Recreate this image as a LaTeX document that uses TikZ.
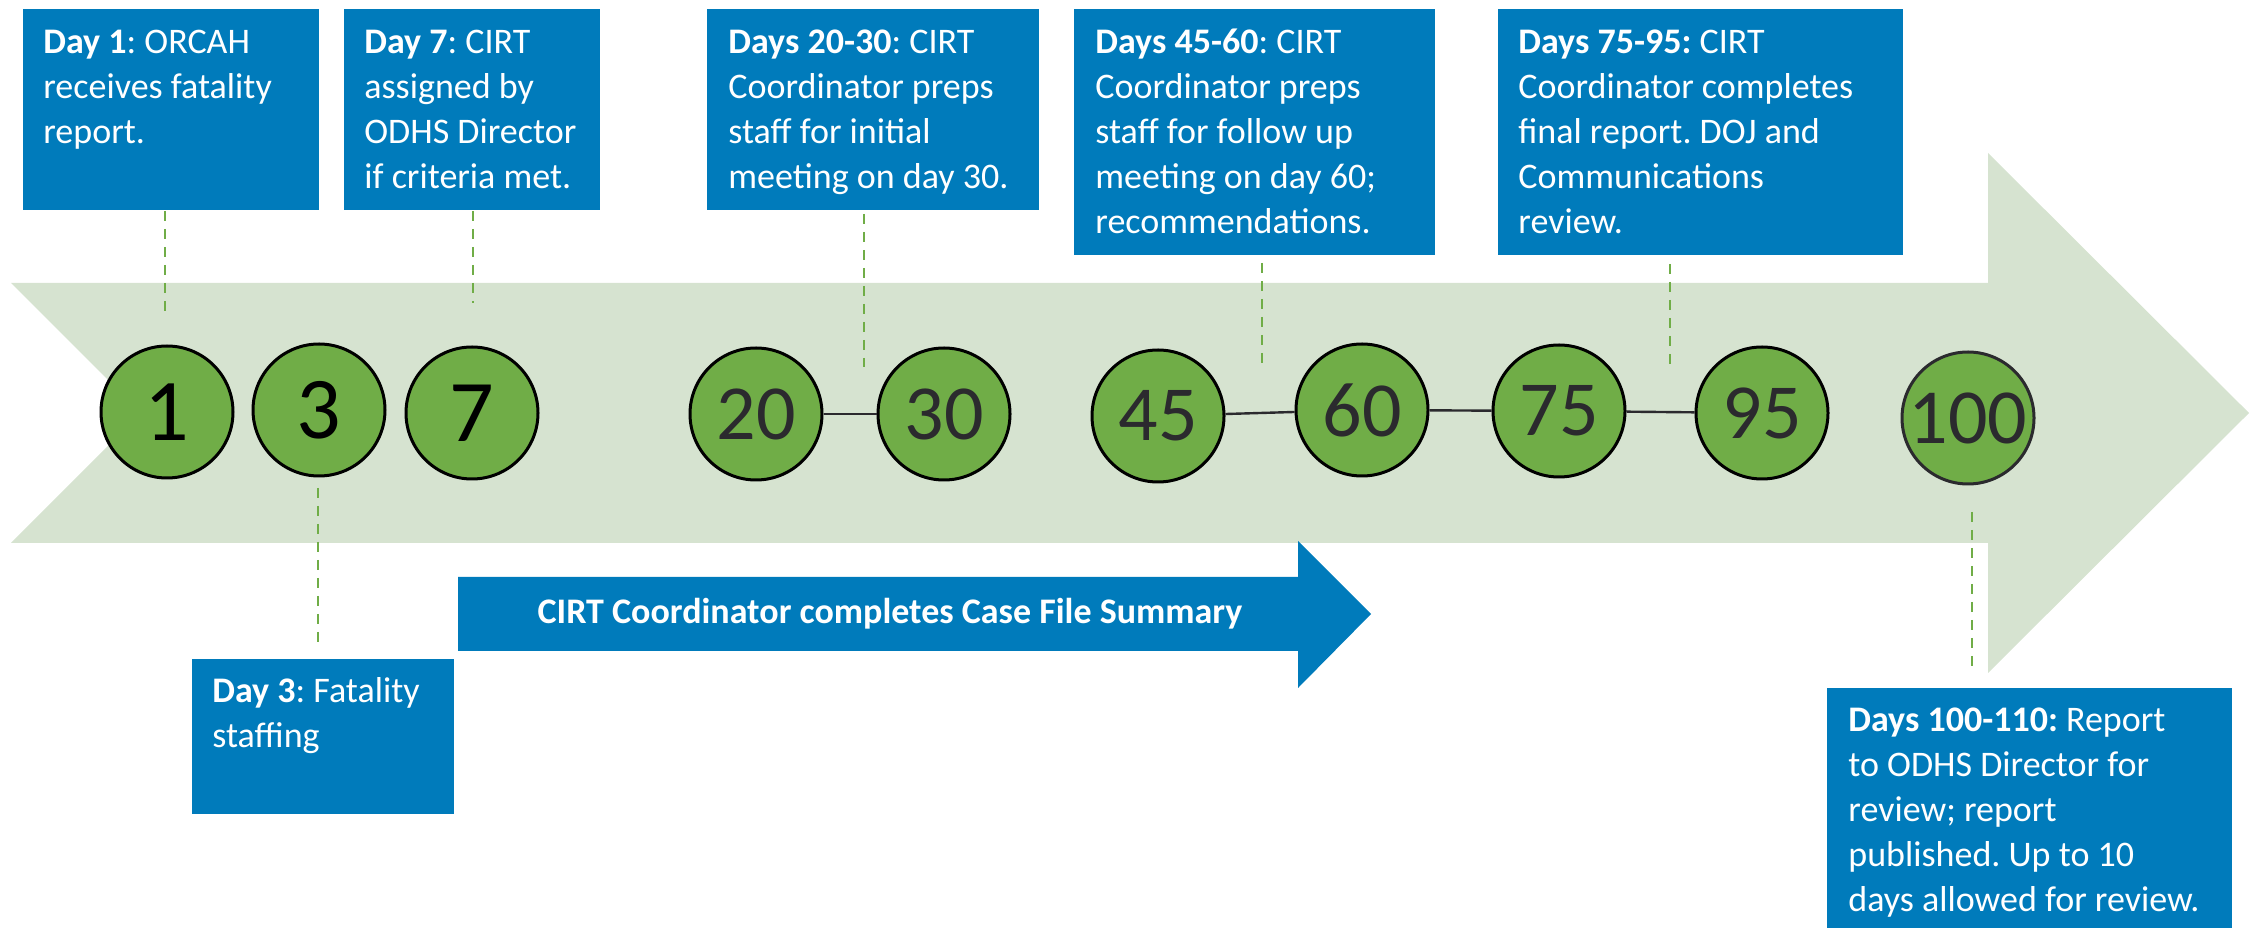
\documentclass[tikz,border=0pt]{standalone}
\usepackage{fontspec}
\setmainfont{Carlito}
\usetikzlibrary{calc}
\definecolor{boxblue}{HTML}{007BBB}
\definecolor{bandgreen}{HTML}{D6E3D0}
\definecolor{dotgreen}{HTML}{70AD47}
\definecolor{numgray}{HTML}{2B2A2E}
\frenchspacing
\begin{document}
\begin{tikzpicture}[x=0.5pt,y=-0.5pt,
  bluebox/.style={fill=boxblue, draw=none, inner sep=0pt, anchor=north west},
  boxtext/.style={inner sep=0pt, anchor=base west, text=white, font=\fontsize{18}{22.5}\selectfont},
  dayc/.style={circle, fill=dotgreen, draw=black, line width=1.5pt, minimum size=66pt, inner sep=0pt},
  bignum/.style={font=\fontsize{44}{44}\selectfont, text=black},
  midnum/.style={font=\fontsize{39}{39}\selectfont, text=numgray},
  dline/.style={draw=dotgreen, line width=1.1pt, dash pattern=on 5pt off 4pt},
  link/.style={draw=numgray, line width=1.2pt}]
\useasboundingbox (0,0) rectangle (2254,929);

% big background arrow
\fill[bandgreen] (11,283) -- (1988,283) -- (1988,153) -- (2249,413) -- (1988,673)
  -- (1988,543) -- (11,543) -- (141,413) -- cycle;

% small blue arrow
\fill[boxblue] (458,577) -- (1298,577) -- (1298,541) -- (1371,614) -- (1298,688)
  -- (1298,651) -- (458,651) -- cycle;
\node[font=\bfseries\fontsize{18}{22}\selectfont, text=white, inner sep=0pt] (cfs) at (890,614) {CIRT Coordinator completes Case File Summary};

% boxes
\node[bluebox, minimum width=148pt, minimum height=100.5pt] (b1) at (23,9) {};
\node[bluebox, minimum width=128pt, minimum height=100.5pt] (b7) at (344,9) {};
\node[bluebox, minimum width=166pt, minimum height=100.5pt] (b20) at (707,9) {};
\node[bluebox, minimum width=180.5pt, minimum height=123pt] (b45) at (1074,9) {};
\node[bluebox, minimum width=202.5pt, minimum height=123pt] (b75) at (1498,9) {};
\node[bluebox, minimum width=131pt, minimum height=77.5pt] (b3) at (192,659) {};
\node[bluebox, minimum width=202.5pt, minimum height=120pt] (b100) at (1827,688) {};

\node[boxtext] (t1) at ($(b1.north west)+(20,45)$) {\parbox[t]{138pt}{\raggedright\textbf{Day 1}: ORCAH\\receives fatality\\report.}};
\node[boxtext] (t7) at ($(b7.north west)+(20,45)$) {\parbox[t]{118pt}{\raggedright\textbf{Day 7}: CIRT\\assigned by\\ODHS Director\\if criteria met.}};
\node[boxtext] (t20) at ($(b20.north west)+(21,45)$) {\parbox[t]{155pt}{\raggedright\textbf{Days 20-30}: CIRT\\Coordinator preps\\staff for initial\\meeting on day 30.}};
\node[boxtext] (t45) at ($(b45.north west)+(21,45)$) {\parbox[t]{170pt}{\raggedright\textbf{Days 45-60}: CIRT\\Coordinator preps\\staff for follow up\\meeting on day 60;\\recommendations.}};
\node[boxtext] (t75) at ($(b75.north west)+(20,45)$) {\parbox[t]{192pt}{\raggedright\textbf{Days 75-95:} CIRT\\Coordinator completes\\final report. DOJ and\\Communications\\review.}};
\node[boxtext] (t3) at ($(b3.north west)+(20,44)$) {\parbox[t]{121pt}{\raggedright\textbf{Day 3}: Fatality\\staffing}};
\node[boxtext] (t100) at ($(b100.north west)+(21,44)$) {\parbox[t]{192pt}{\raggedright\textbf{Days 100-110:} Report\\to ODHS Director for\\review; report\\published. Up to 10\\days allowed for review.}};

% circles
\node[dayc, bignum] (c1) at (167,412) {1};
\node[dayc, bignum] (c3) at (319,410) {3};
\node[dayc, bignum] (c7) at (472,413) {7};
\node[dayc, midnum] (c20) at (756,414) {20};
\node[dayc, midnum] (c30) at (944,414) {30};
\node[dayc, midnum] (c45) at (1158,416) {45};
\node[dayc, midnum] (c60) at (1362,410) {60};
\node[dayc, midnum] (c75) at (1559,411) {75};
\node[dayc, midnum] (c95) at (1762,413) {95};
\node[dayc, midnum, draw=numgray] (c100) at (1968,418) {100};

% links between circles
\draw[link] (c20) -- (c30);
\draw[link] (c45) -- (c60);
\draw[link] (c60) -- (c75);
\draw[link] (c75) -- (c95);

% dashed leaders
\coordinate (e1) at (165,312);
\coordinate (e7) at (473,303);
\coordinate (e20) at (864,367);
\coordinate (e45) at (1262,365);
\coordinate (e75) at (1670,367);
\coordinate (s3) at (318,488);
\coordinate (s100) at (1972,512);
\draw[dline] (b1.south -| e1) -- (e1);
\draw[dline] (b7.south -| e7) -- (e7);
\draw[dline] ($(b20.south -| e20)+(0,3)$) -- (e20);
\draw[dline] ($(b45.south -| e45)+(0,7)$) -- (e45);
\draw[dline] ($(b75.south -| e75)+(0,8)$) -- (e75);
\draw[dline] (s3) -- ($(b3.north -| s3)+(0,-11)$);
\draw[dline] (s100) -- ($(b100.north -| s100)+(0,-16)$);
\end{tikzpicture}
\end{document}
